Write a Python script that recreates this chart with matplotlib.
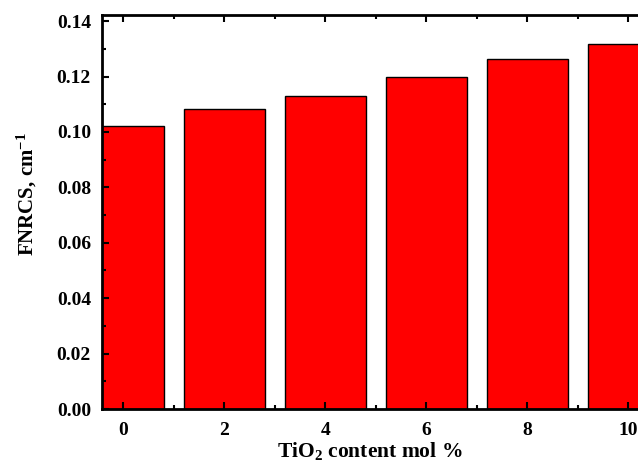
import matplotlib
matplotlib.use('Agg')
import matplotlib.pyplot as plt
from matplotlib.ticker import MultipleLocator, FormatStrFormatter

# TiO2 content (mol %) and FNRCS values
tio2 = [0, 2, 4, 6, 8, 10]
fnrcs = [0.1023, 0.1081, 0.1128, 0.1197, 0.1264, 0.1318]

plt.rcParams['font.family'] = 'Liberation Serif'
plt.rcParams['font.weight'] = 'bold'
plt.rcParams['mathtext.fontset'] = 'custom'
plt.rcParams['mathtext.rm'] = 'Liberation Serif:bold'
plt.rcParams['mathtext.it'] = 'Liberation Serif:bold'
plt.rcParams['mathtext.bf'] = 'Liberation Serif:bold'

fig = plt.figure(figsize=(6.38, 4.65), dpi=100)
# the original is cropped on the right edge
ax = fig.add_axes([102/638, (465-409)/465, 536/638, 394/465])

ax.bar(tio2, fnrcs, width=1.6, color='#ff0000', edgecolor='black', linewidth=1.0)

ax.set_xlim(-0.42, 10.19)
ax.set_ylim(0, 0.1422)
ax.xaxis.set_major_locator(MultipleLocator(2))
ax.xaxis.set_minor_locator(MultipleLocator(1))
ax.yaxis.set_major_locator(MultipleLocator(0.02))
ax.yaxis.set_minor_locator(MultipleLocator(0.01))
ax.yaxis.set_major_formatter(FormatStrFormatter('%.2f'))

ax.tick_params(which='both', direction='in', top=True, right=False, width=1.5)
ax.tick_params(which='major', length=5, labelsize=14)
ax.tick_params(axis='x', which='major', pad=9)
ax.tick_params(axis='y', which='major', pad=8)
ax.tick_params(which='minor', length=3)
for s in ['left', 'bottom', 'top']:
    ax.spines[s].set_linewidth(2)
ax.spines['right'].set_visible(False)

ax.set_xlabel('TiO$_2$ content mol %', fontsize=15.5, fontweight='bold', labelpad=1)
ax.set_ylabel('FNRCS, cm$^{-1}$', fontsize=15, fontweight='bold')
ax.yaxis.set_label_coords(-0.118, 0.545)

fig.savefig('out.png', dpi=100)
